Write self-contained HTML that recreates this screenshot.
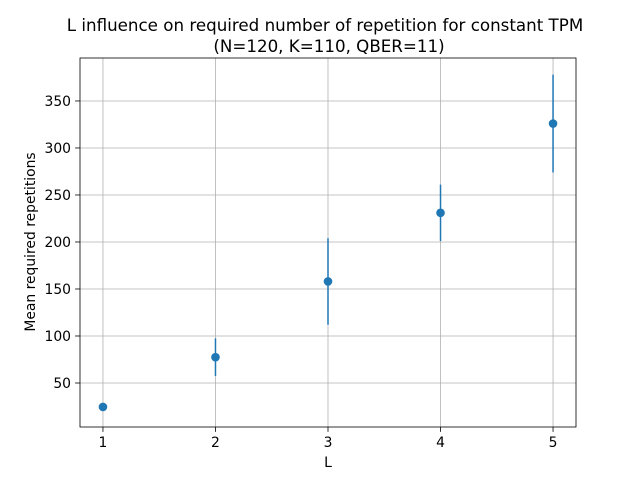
<!DOCTYPE html>
<html><head><meta charset="utf-8"><style>
body{margin:0;background:#fff;}
svg{font-family:"DejaVu Sans","Liberation Sans",sans-serif;}
</style></head><body>
<svg id="chart" width="640" height="480"></svg>
<script>
const categories=[1,2,3,4,5];
const meanValues=[24.5,77.5,158,231,326];
const errValues=[3,20,46,30,52];
const yTicks=[50,100,150,200,250,300,350];
const xTicks=[1,2,3,4,5];
const L=80,R=576,T=58,B=427;
const xMin=0.796,xMax=5.204,yMin=3.2,yMax=395.7;
const xs=v=>L+(v-xMin)/(xMax-xMin)*(R-L);
const ys=v=>B-(v-yMin)/(yMax-yMin)*(B-T);
const svg=document.getElementById('chart');
const NS='http://www.w3.org/2000/svg';
function mk(tag,attrs,parent){const e=document.createElementNS(NS,tag);for(const k in attrs)e.setAttribute(k,attrs[k]);(parent||svg).appendChild(e);return e;}
const grid=mk('g',{});


xTicks.forEach(t=>{const x=xs(t);
mk('line',{x1:x,x2:x,y1:T,y2:B,stroke:'#b0b0b0','stroke-width':0.8},grid);
mk('line',{x1:x,x2:x,y1:B,y2:B+4.9,stroke:'#000','stroke-width':0.8});
const tx=mk('text',{x:x,y:B+20,'font-size':13.9,'text-anchor':'middle'});tx.textContent=t;

});
yTicks.forEach(t=>{const y=ys(t);
mk('line',{x1:L,x2:R,y1:y,y2:y,stroke:'#b0b0b0','stroke-width':0.8},grid);
mk('line',{x1:L-4.9,x2:L,y1:y,y2:y,stroke:'#000','stroke-width':0.8});
const tx=mk('text',{x:L-9,y:y+5,'font-size':13.9,'text-anchor':'end'});tx.textContent=t;

});
categories.forEach((c,i)=>{const x=xs(c);
const el=mk('line',{x1:x,x2:x,y1:ys(meanValues[i]-errValues[i]),y2:ys(meanValues[i]+errValues[i]),stroke:'#1f77b4','stroke-width':1.5});


const p=mk('circle',{cx:x,cy:ys(meanValues[i]),r:4.3,fill:'#1f77b4'});

});
const fr=mk('rect',{x:L,y:T,width:R-L,height:B-T,fill:'none',stroke:'#000','stroke-width':0.8});


const t1=mk('text',{x:325,y:31,'font-size':16.7,'text-anchor':'middle'});t1.textContent='L influence on required number of repetition for constant TPM';


const t2=mk('text',{x:329,y:52,'font-size':16.7,'text-anchor':'middle'});t2.textContent='(N=120, K=110, QBER=11)';


const xl=mk('text',{x:328,y:467,'font-size':13.9,'text-anchor':'middle'});xl.textContent='L';


const yl=mk('text',{x:0,y:0,'font-size':13.9,'text-anchor':'middle',transform:'translate(35,242) rotate(-90)'});yl.textContent='Mean required repetitions';


</script>
</body></html>
